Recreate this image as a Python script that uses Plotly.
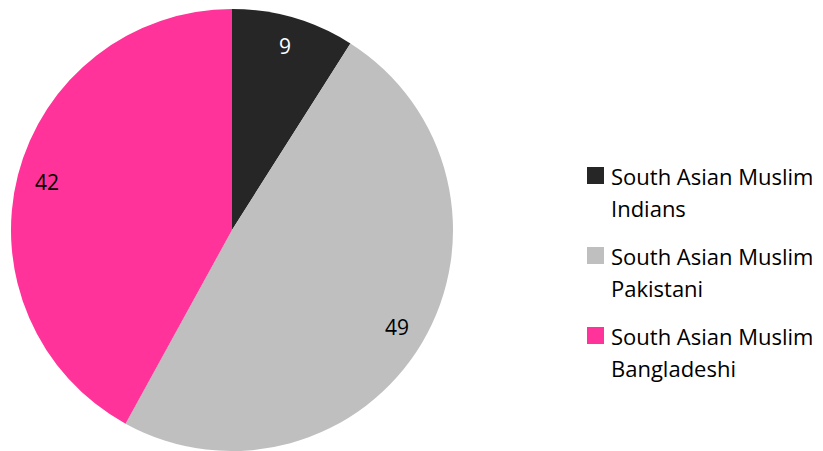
import math
import plotly.graph_objects as go

categories = ["South Asian Muslim Indians", "South Asian Muslim Pakistani", "South Asian Muslim Bangladeshi"]
legend_lines = [["South Asian Muslim", "Indians"], ["South Asian Muslim", "Pakistani"], ["South Asian Muslim", "Bangladeshi"]]
values = [9, 49, 42]
colors = ["#262626", "#BFBFBF", "#FF3399"]
label_colors = ["#FFFFFF", "#000000", "#000000"]

W, H = 823, 451
FONT = "Open Sans, Lato, sans-serif"

# pie placement in pixels
cx, cy, R = 232, 230, 221
dom_x = [(cx - R) / W, (cx + R) / W]
dom_y = [1 - (cy + R) / H, 1 - (cy - R) / H]

fig = go.Figure(go.Pie(
    labels=categories, values=values, sort=False, direction="clockwise", rotation=0,
    marker=dict(colors=colors, line=dict(width=0)),
    textinfo="none", hoverinfo="label+value", showlegend=False,
    domain=dict(x=dom_x, y=dom_y),
))

annotations = []
shapes = []
total = sum(values)
cum = 0
for v, tc in zip(values, label_colors):
    mid = (cum + v / 2) / total * 2 * math.pi
    cum += v
    r = 0.865 * R
    px = cx + r * math.sin(mid)
    py = cy - r * math.cos(mid)
    annotations.append(dict(x=px / W, y=1 - py / H, xref="paper", yref="paper",
                            xanchor="center", yanchor="middle",
                            text=str(v), showarrow=False,
                            font=dict(family=FONT, size=21, color=tc)))

# legend drawn as swatches with two-line labels
lx, ly0, step, sw = 587, 176, 80, 17
for i, (lines, col) in enumerate(zip(legend_lines, colors)):
    yc = ly0 + i * step
    shapes.append(dict(type="rect", xref="paper", yref="paper",
                       x0=lx / W, x1=(lx + sw) / W,
                       y0=1 - (yc - 9 + sw) / H, y1=1 - (yc - 9) / H,
                       fillcolor=col, line=dict(width=0)))
    for j, t in enumerate(lines):
        annotations.append(dict(x=(lx + 22) / W, y=1 - (yc + j * 32) / H,
                                xref="paper", yref="paper", xanchor="left", yanchor="middle",
                                text=t, showarrow=False,
                                font=dict(family=FONT, size=22, color="#000000")))

fig.update_layout(width=W, height=H, margin=dict(l=0, r=0, t=0, b=0),
                  paper_bgcolor="white", plot_bgcolor="white",
                  annotations=annotations, shapes=shapes)
fig.write_html("out.html")
